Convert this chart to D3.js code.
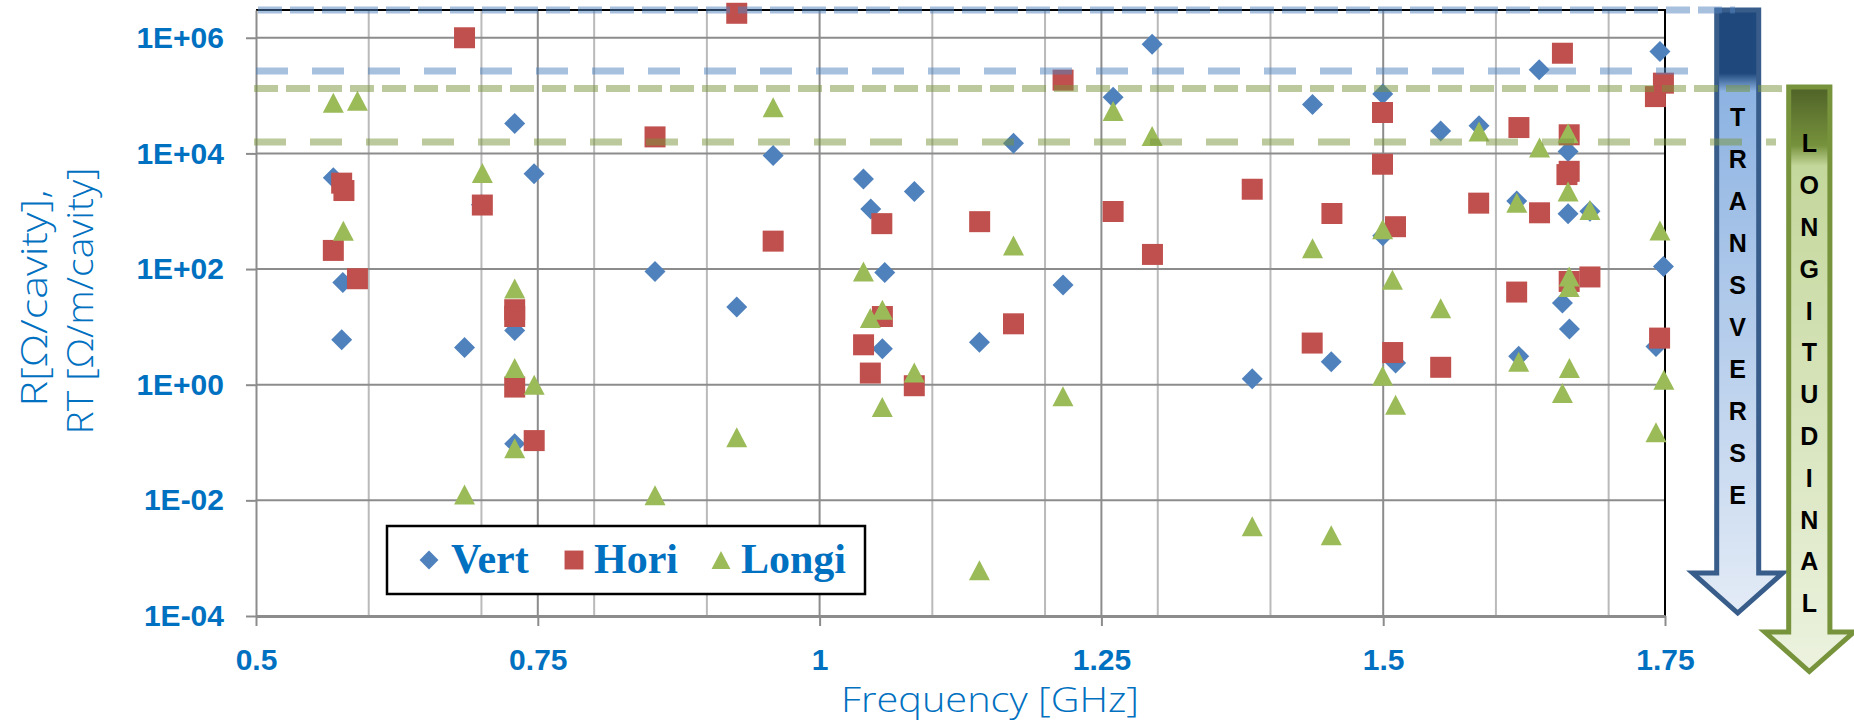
<!DOCTYPE html>
<html>
<head>
<meta charset="utf-8">
<script src="https://cdn.jsdelivr.net/npm/d3@7"></script>
<style>
  body { margin: 0; background: #fff; }
</style>
</head>
<body>
<script>
// [frequency in GHz, R or RT]
const vert = [
  [0.5686, 3.8e3], [0.577, 58.6], [0.576, 6.0], [0.685, 4.4], [0.70, 1.3e3],
  [0.7295, 3.3e4], [0.7295, 8.7], [0.7295, 0.095], [0.7467, 4.43e3], [0.854, 91],
  [0.9265, 22], [0.9588, 9.2e3], [1.0389, 3.6e3], [1.0454, 1.09e3], [1.0578, 87],
  [1.0557, 4.2], [1.0841, 2.2e3], [1.1418, 5.4], [1.172, 1.5e4], [1.216, 53],
  [1.2604, 9.4e4], [1.295, 7.7e5], [1.3838, 1.27], [1.4373, 7.0e4], [1.4539, 2.5],
  [1.4996, 1.06e5], [1.4996, 376], [1.511, 2.37], [1.551, 2.45e4], [1.585, 3.0e4],
  [1.6185, 1.5e3], [1.6202, 3.1], [1.6384, 2.8e5], [1.659, 26], [1.664, 1.08e4],
  [1.664, 900], [1.6652, 9.2], [1.6834, 1.0e3], [1.7455, 5.8e5], [1.7486, 111],
  [1.742, 4.6]
];
const hori = [
  [0.5686, 210], [0.576, 3.06e3], [0.578, 2.28e3], [0.59, 68], [0.685, 1.0e6],
  [0.7008, 1.28e3], [0.7295, 19.8], [0.7295, 15.1], [0.7295, 0.91], [0.7468, 0.108],
  [0.854, 1.93e4], [0.9265, 2.65e6], [0.9588, 304], [1.039, 4.9], [1.045, 1.59],
  [1.0552, 610], [1.0557, 15.1], [1.084, 0.96], [1.142, 660], [1.172, 11.3],
  [1.216, 1.85e5], [1.2604, 990], [1.2953, 179], [1.3838, 2.4e3], [1.437, 5.25],
  [1.4545, 914], [1.4994, 5.1e4], [1.4994, 6.5e3], [1.5084, 3.6], [1.5109, 540],
  [1.551, 2.0], [1.5847, 1.38e3], [1.6204, 2.8e4], [1.6184, 40], [1.6387, 940],
  [1.659, 5.4e5], [1.665, 2.1e4], [1.665, 4.9e3], [1.663, 4.3e3], [1.665, 61],
  [1.6834, 73], [1.7486, 1.64e5], [1.7415, 9.6e4], [1.7452, 6.4]
];
const longi = [
  [0.5686, 7.5e4], [0.59, 8.1e4], [0.5775, 460], [0.685, 0.0126], [0.7008, 4.56e3],
  [0.7295, 46], [0.7295, 1.94], [0.7295, 0.08], [0.7468, 1.0], [0.854, 0.0122],
  [0.9265, 0.123], [0.9588, 6.3e4], [1.0389, 91], [1.045, 14.2], [1.0557, 19.8],
  [1.0556, 0.41], [1.084, 1.63], [1.1418, 6.2e-4], [1.172, 256], [1.2159, 0.63],
  [1.2604, 5.4e4], [1.295, 2.0e4], [1.3838, 0.00356], [1.4373, 230], [1.4539, 0.0025],
  [1.4995, 490], [1.4995, 1.43], [1.5082, 65], [1.511, 0.45], [1.551, 21],
  [1.585, 2.4e4], [1.6185, 1.4e3], [1.6202, 2.5], [1.6387, 1.26e4], [1.659, 0.72],
  [1.664, 2.24e4], [1.664, 2.2e3], [1.665, 74], [1.665, 49], [1.6652, 1.94],
  [1.6834, 1.05e3], [1.7455, 464], [1.749, 1.22], [1.742, 0.15]
];
const seriesNames = ['Vert', 'Hori', 'Longi'];
const xTicks = [0.5, 0.75, 1, 1.25, 1.5, 1.75];
const xMinorGrid = [0.6, 0.7, 0.8, 0.9, 1.1, 1.2, 1.3, 1.4, 1.6, 1.7];
const yTicks = [1e-4, 1e-2, 1, 1e2, 1e4, 1e6];
// threshold lines (transverse / longitudinal)
const transLimits = [3.03e6, 2.67e5];
const longLimits = [1.32e5, 1.58e4];

const width = 1854, height = 728;
const blue = '#0070c0';

let svg = d3.select('body').append('svg')
    .attr('width', width)
    .attr('height', height);

const plot = {left: 256, right: 1665, top: 10, bottom: 616};

let x = d3.scaleLinear().domain([0.5, 1.75]).range([plot.left, plot.right]);
let y = d3.scaleLog().domain([1e-4, Math.pow(10, 6.48)]).range([plot.bottom, plot.top]);

// grid
let grid = svg.append('g');
grid.selectAll('.vmin').data(xMinorGrid).join('line')
    .attr('x1', d => x(d)).attr('x2', d => x(d))
    .attr('y1', plot.top).attr('y2', plot.bottom)
    .attr('stroke', '#bababa').attr('stroke-width', 2);
grid.selectAll('.vmaj').data(xTicks.slice(1, -1)).join('line')
    .attr('x1', d => x(d)).attr('x2', d => x(d))
    .attr('y1', plot.top).attr('y2', plot.bottom)
    .attr('stroke', '#8c8c8c').attr('stroke-width', 2);
grid.selectAll('.h').data(yTicks.slice(1)).join('line')
    .attr('x1', plot.left).attr('x2', plot.right)
    .attr('y1', d => y(d)).attr('y2', d => y(d))
    .attr('stroke', '#8c8c8c').attr('stroke-width', 2);

// border top / right
svg.append('path')
    .attr('d', `M${plot.left},${plot.top}H${plot.right}V${plot.bottom}`)
    .attr('fill', 'none').attr('stroke', '#000').attr('stroke-width', 2);

// axes
const expFmt = d => {
  const e = Math.round(Math.log10(d));
  return '1E' + (e < 0 ? '-' : '+') + String(Math.abs(e)).padStart(2, '0');
};
let yAxis = svg.append('g')
    .attr('transform', `translate(${plot.left},0)`)
    .call(d3.axisLeft(y).tickValues(yTicks).tickFormat(expFmt).tickSize(10).tickSizeOuter(0).tickPadding(22));
let xAxis = svg.append('g')
    .attr('transform', `translate(0,${plot.bottom})`)
    .call(d3.axisBottom(x).tickValues(xTicks).tickFormat(d => String(d)).tickSize(10).tickSizeOuter(0).tickPadding(23));
[yAxis, xAxis].forEach(a => {
  a.selectAll('line').attr('stroke', '#8c8c8c').attr('stroke-width', 2);
  a.selectAll('text')
      .attr('fill', blue)
      .style('font-family', '"Liberation Sans", Arial, sans-serif')
      .style('font-weight', 'bold')
      .style('font-size', '30px');
});
yAxis.select('.domain').attr('stroke', '#8c8c8c').attr('stroke-width', 2);
xAxis.select('.domain').attr('stroke', '#8c8c8c').attr('stroke-width', 3);

// axis titles
const titleFont = '"Open Sans", "Noto Sans", sans-serif';
svg.append('text')
    .attr('x', 990).attr('y', 712)
    .attr('text-anchor', 'middle')
    .attr('textLength', 298).attr('lengthAdjust', 'spacingAndGlyphs')
    .attr('fill', blue)
    .style('font-family', titleFont).style('font-weight', 300).style('font-size', '35px')
    .text('Frequency [GHz]');
[['R[Ω/cavity],', 47, 298, 217], ['RT [Ω/m/cavity]', 93, 301, 267]].forEach(([t, bx, cy, len]) => {
  svg.append('text')
      .attr('transform', `translate(${bx},${cy}) rotate(-90)`)
      .attr('text-anchor', 'middle')
      .attr('textLength', len).attr('lengthAdjust', 'spacingAndGlyphs')
      .attr('fill', blue)
      .style('font-family', titleFont).style('font-weight', 300).style('font-size', '36px')
      .text(t);
});

// markers
const shapes = {
  Vert: 'M0,-10.5L10.5,0L0,10.5L-10.5,0Z',
  Hori: 'M-10.5,-10.5H10.5V10.5H-10.5Z',
  Longi: 'M0,-10L10.5,10L-10.5,10Z'
};
const colors = {Vert: '#4f81bd', Hori: '#c0504d', Longi: '#9bbb59'};
[vert, hori, longi].forEach((data, i) => {
  const name = seriesNames[i];
  svg.append('g').selectAll('path').data(data).join('path')
      .attr('d', shapes[name])
      .attr('transform', d => `translate(${x(d[0])},${y(d[1])})`)
      .attr('fill', colors[name]);
});

// legend
let legend = svg.append('g');
legend.append('rect')
    .attr('x', 387).attr('y', 526).attr('width', 478).attr('height', 68)
    .attr('fill', '#fff').attr('stroke', '#000').attr('stroke-width', 2.5);
const legendPos = [[429, 451], [574, 594], [721, 741]];
seriesNames.forEach((name, i) => {
  legend.append('path')
      .attr('d', shapes[name])
      .attr('transform', `translate(${legendPos[i][0]},560) scale(0.9)`)
      .attr('fill', colors[name]);
  legend.append('text')
      .attr('x', legendPos[i][1]).attr('y', 573)
      .attr('fill', blue)
      .style('font-family', '"Liberation Serif", "Times New Roman", serif')
      .style('font-weight', 'bold').style('font-size', '42px')
      .text(name);
});

// arrows on the right
let defs = svg.append('defs');
function gradient(id, stops) {
  let g = defs.append('linearGradient').attr('id', id)
      .attr('x1', 0).attr('y1', 0).attr('x2', 0).attr('y2', 1);
  stops.forEach(s => g.append('stop').attr('offset', s[0]).attr('stop-color', s[1]));
}
gradient('gTrans', [[0, '#1f497d'], [0.105, '#1f497d'], [0.135, '#8db3e2'], [1, '#e3ebf6']]);
gradient('gLong', [[0, '#4f6228'], [0.1, '#76923c'], [0.135, '#c4d79b'], [1, '#ecf2df']]);

function arrow(cx, top, headTop, tip, hw, hh, fill, stroke, word, y0, step) {
  svg.append('path')
      .attr('d', `M${cx - hw},${top}H${cx + hw}V${headTop}H${cx + hh}L${cx},${tip}L${cx - hh},${headTop}H${cx - hw}Z`)
      .attr('fill', `url(#${fill})`)
      .attr('stroke', stroke).attr('stroke-width', 5)
      .attr('stroke-linejoin', 'miter');
  svg.append('g').selectAll('text').data(word.split('')).join('text')
      .attr('x', cx).attr('y', (d, i) => y0 + i * step)
      .attr('dy', '0.36em')
      .attr('text-anchor', 'middle')
      .attr('fill', '#000')
      .style('font-family', '"Liberation Sans", Arial, sans-serif')
      .style('font-weight', 'bold').style('font-size', '25px')
      .text(d => d);
}
arrow(1737.7, 10, 573, 613, 21, 45, 'gTrans', '#385d8a', 'TRANSVERSE', 117, 42);
arrow(1809.3, 87, 632, 671.5, 20.6, 44.5, 'gLong', '#77933c', 'LONGITUDINAL', 143.3, 41.8);

// dashed limit lines, drawn over everything
let limits = svg.append('g');
[
  [transLimits[0], 258, 1735, '#4f81bd', '24,8'],
  [transLimits[1], 256, 1688, '#4f81bd', '32,24'],
  [longLimits[0], 254, 1783, '#77933c', '24,8'],
  [longLimits[1], 254, 1776, '#77933c', '32,24']
].forEach(([v, x1, x2, c, dash]) => {
  limits.append('line')
      .attr('x1', x1).attr('x2', x2)
      .attr('y1', y(v)).attr('y2', y(v))
      .attr('stroke', c).attr('stroke-opacity', 0.5)
      .attr('stroke-width', 7)
      .attr('stroke-dasharray', dash);
});
</script>
</body>
</html>
